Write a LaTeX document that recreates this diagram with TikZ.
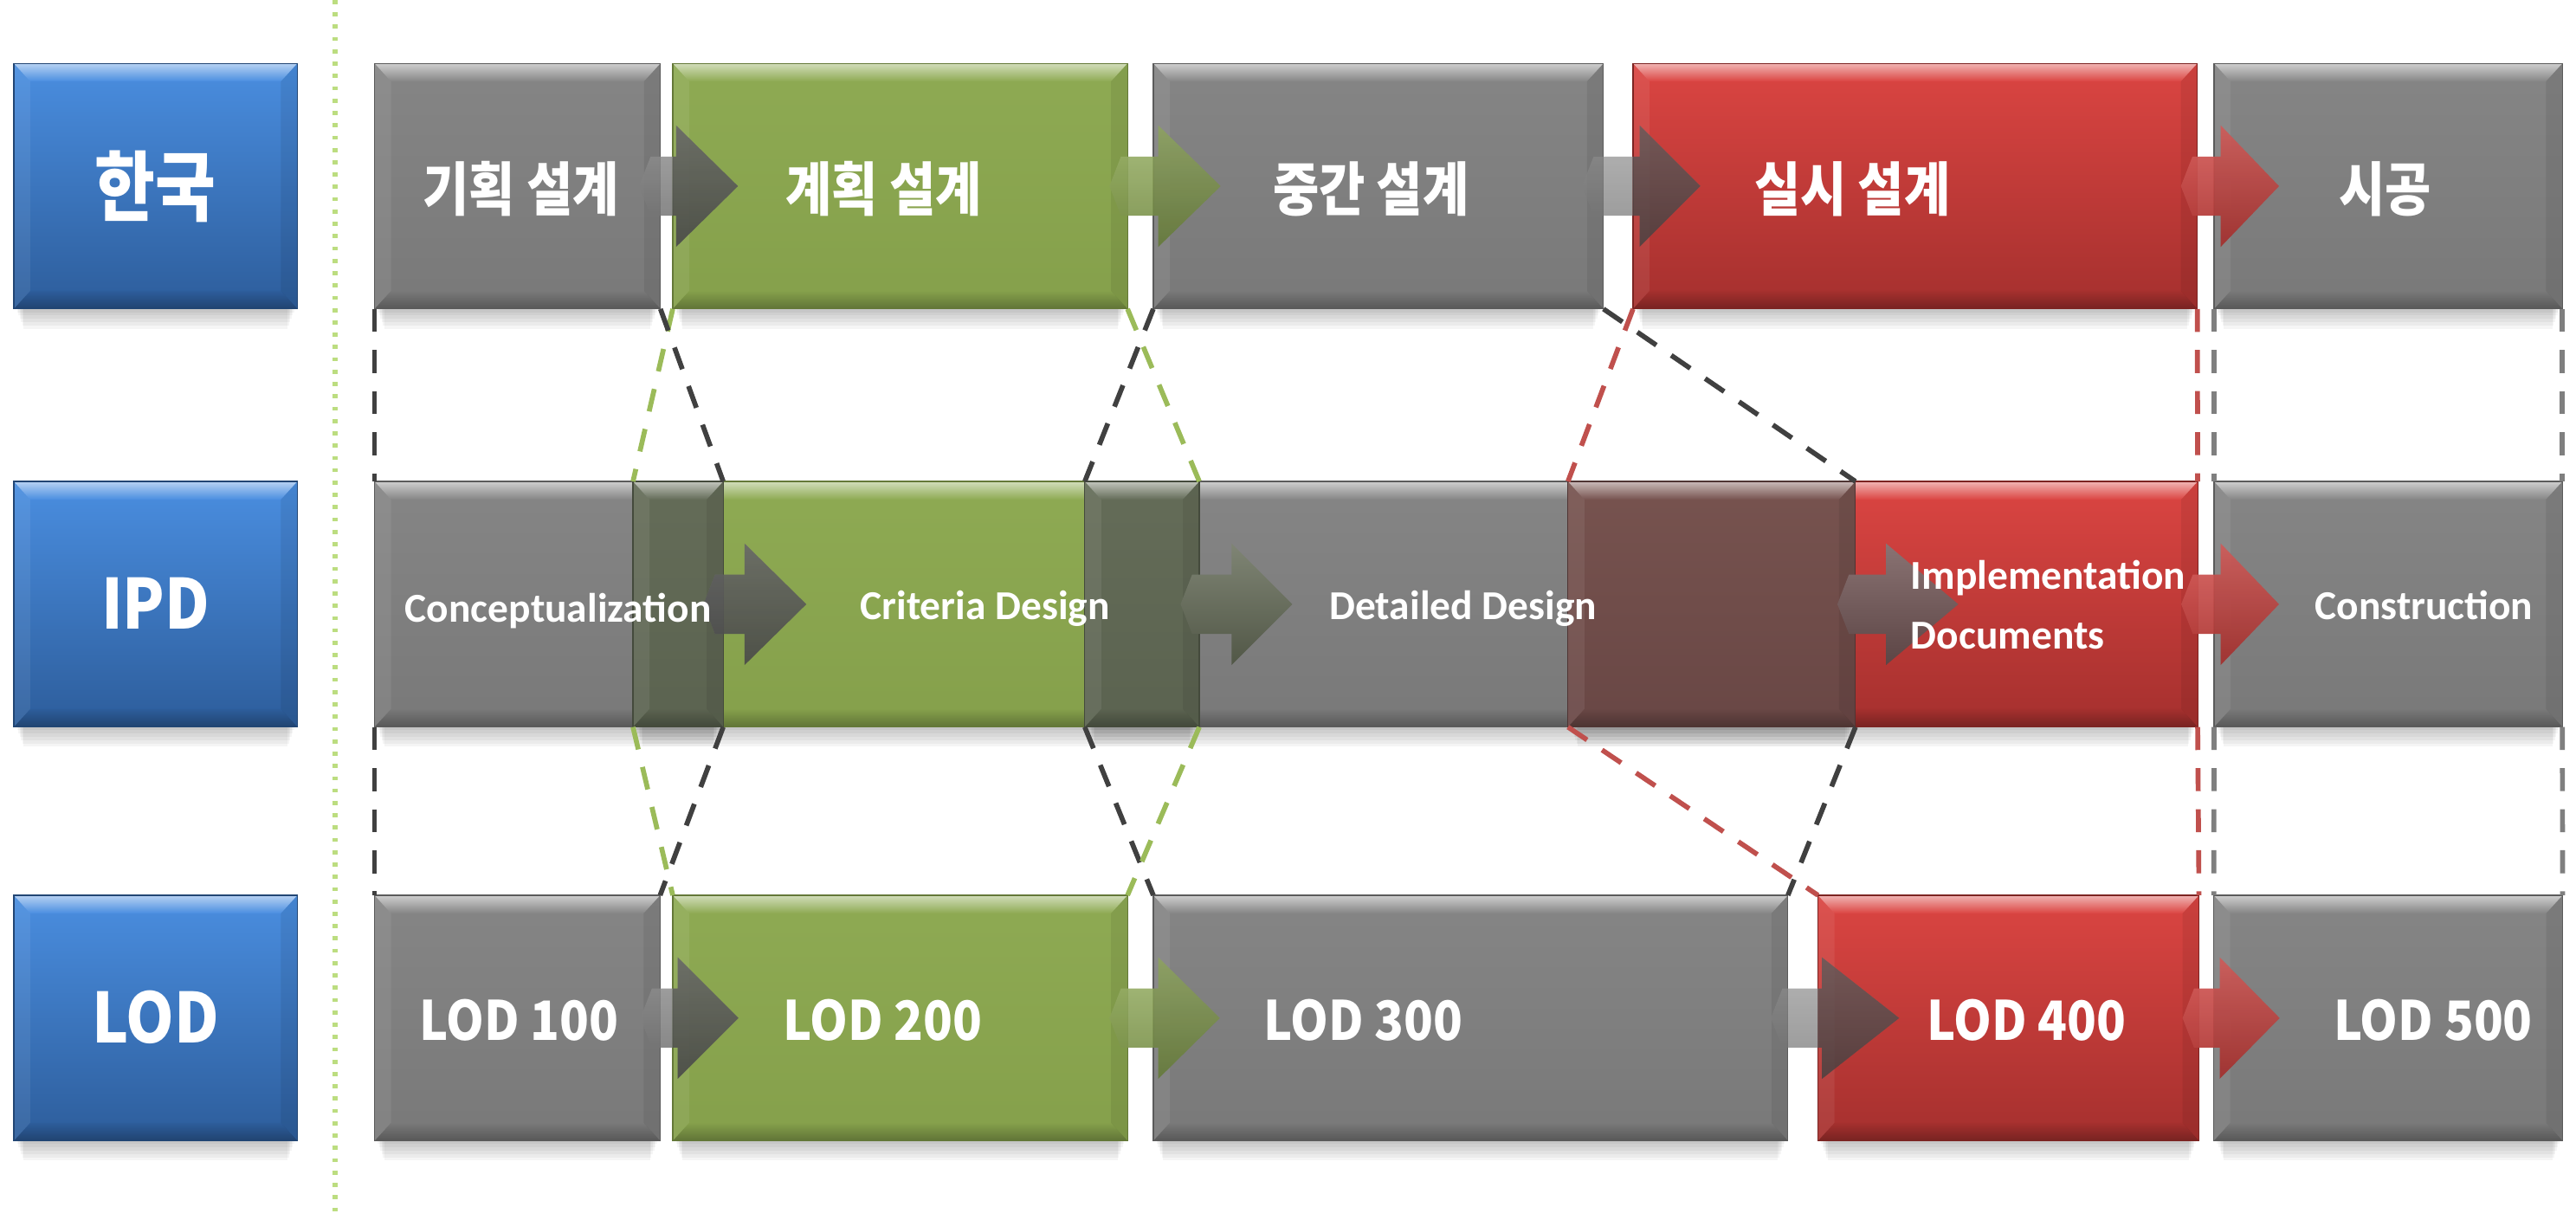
\documentclass[tikz,border=0pt]{standalone}
\usepackage{fontspec}
\newfontfamily\korfont{Noto Sans CJK KR}[FakeStretch=0.86]
\newfontfamily\latfont{Noto Sans CJK KR}[FakeStretch=0.89]
\newfontfamily\calfont{Carlito}
\usetikzlibrary{calc}

\definecolor{gyT}{HTML}{858585}\definecolor{gyB}{HTML}{797979}
\definecolor{grT}{HTML}{8EAA53}\definecolor{grB}{HTML}{85A04B}
\definecolor{rdT}{HTML}{DB4542}\definecolor{rdB}{HTML}{A5302E}
\definecolor{blT}{HTML}{4A8EE0}\definecolor{blB}{HTML}{2D5D9B}
\definecolor{ogT}{HTML}{646C58}\definecolor{ogB}{HTML}{5B6350}
\definecolor{orT}{HTML}{77534F}\definecolor{orB}{HTML}{694745}
\definecolor{cgray}{HTML}{808080}
\definecolor{cgreen}{HTML}{8BA750}
\definecolor{cred}{HTML}{D0403D}
\definecolor{cBtwo}{HTML}{636A56}
\definecolor{cBthree}{HTML}{705454}
\definecolor{dkD}{HTML}{404040}
\definecolor{grD}{HTML}{9BBB59}
\definecolor{rdD}{HTML}{C0504D}
\definecolor{gyD}{HTML}{7F7F7F}
\definecolor{dotg}{HTML}{BCDD80}

\newcommand\shadowbox[1]{\foreach \k in {0,...,5}{\fill[black,opacity=0.04] ($(#1.south west)+(2+\k*0.8,-1)$) rectangle ($(#1.south east)+(-2-\k*0.8,2+\k*2)$);}}
\newcommand\bev[4]{%
 \coordinate (bvnw) at (#1); \coordinate (bvse) at (#2);
 \coordinate (bvsw) at (bvnw |- bvse); \coordinate (bvne) at (bvse |- bvnw);
 \shade[top color=#3, bottom color=#4] (bvnw) rectangle (bvse);
 \shade[top color=#3!40!white, bottom color=#3] (bvnw) -- (bvne) -- ($(bvne)+(-10,11)$) -- ($(bvnw)+(10,11)$) -- cycle;
 \shade[top color=#4, bottom color=#4!72!black] ($(bvsw)+(10,-11)$) -- ($(bvse)+(-10,-11)$) -- (bvse) -- (bvsw) -- cycle;
 \fill[white,opacity=0.07] (bvnw) -- ($(bvnw)+(10,11)$) -- ($(bvsw)+(10,-11)$) -- (bvsw) -- cycle;
 \fill[black,opacity=0.07] (bvne) -- ($(bvne)+(-10,11)$) -- ($(bvse)+(-10,-11)$) -- (bvse) -- cycle;
 \draw[#4!75!black, line width=0.6] (bvnw) rectangle (bvse);
}
\newcommand\arrpath[3]{(#1) -- ($(#1)+(7,-18)$) -- ($(#2)+(0,-18)$) -- ($(#2)+(0,-37)$) -- ($(#2)+(#3,0)$) -- ($(#2)+(0,37)$) -- ($(#2)+(0,18)$) -- ($(#1)+(7,18)$) -- cycle}
\newcommand\blockarrow[7]{%
 \shade[top color=#4!82!white, middle color=#4, bottom color=#4!82!black, opacity=#5] \arrpath{#1}{#2}{#3};
 \begin{scope}\clip (#6.north west) rectangle (#6.south east);
 \fill[black,opacity=#7] \arrpath{#1}{#2}{#3};\end{scope}}

\tikzset{
 geom/.style={rectangle, inner sep=0pt, outer sep=0pt, minimum height=149.5pt, draw=none},
 dsh/.style={line width=3pt, dash pattern=on 14pt off 11pt},
 korL/.style={text=white, inner sep=0pt, font=\korfont\bfseries\fontsize{46.5}{50}\selectfont},
 korM/.style={text=white, inner sep=0pt, font=\korfont\bfseries\fontsize{35.5}{38}\selectfont},
 latL/.style={text=white, inner sep=0pt, anchor=base, font=\latfont\bfseries\fontsize{42}{46}\selectfont},
 latM/.style={text=white, inner sep=0pt, anchor=base, font=\latfont\bfseries\fontsize{33}{36}\selectfont},
 calM/.style={text=white, inner sep=0pt, font=\calfont\bfseries\fontsize{25}{36.4}\selectfont},
}

\begin{document}
\begin{tikzpicture}[x=1pt,y=-1pt]
\useasboundingbox (0,0) rectangle (1568,742.6);
\fill[white] (0,0) rectangle (1568,742.6);

% geometry nodes
\node[geom, minimum width=172.6] (b1) at (94.7,113.3) {};
\node[geom, minimum width=172.6] (b2) at (94.7,367.8) {};
\node[geom, minimum width=172.6] (b3) at (94.7,619.7) {};
\node[geom, minimum width=174] (k1) at (315,113.3) {};
\node[geom, minimum width=276.8] (k2) at (547.9,113.3) {};
\node[geom, minimum width=274] (k3) at (839,113.3) {};
\node[geom, minimum width=343.5] (k4) at (1165.75,113.3) {};
\node[geom, minimum width=212] (k5) at (1453.7,113.3) {};
\node[geom, minimum width=212.2] (i1) at (334.1,367.8) {};
\node[geom, minimum width=344.7] (i2) at (557.65,367.8) {};
\node[geom, minimum width=469.1] (i3) at (894.85,367.8) {};
\node[geom, minimum width=383.3] (i4) at (1146.05,367.8) {};
\node[geom, minimum width=212] (i5) at (1453.7,367.8) {};
\node[geom, minimum width=173.8] (l1) at (314.9,619.7) {};
\node[geom, minimum width=276.8] (l2) at (547.9,619.7) {};
\node[geom, minimum width=386.3] (l3) at (895.15,619.7) {};
\node[geom, minimum width=231.9] (l4) at (1222.55,619.7) {};
\node[geom, minimum width=212.3] (l5) at (1453.65,619.7) {};

% dotted separator
\coordinate (dtop) at (204,0);
\coordinate (dbot) at (204,742.6);
\draw[dotg, line width=3.4, dash pattern=on 2.5pt off 5pt] (dtop) -- (dbot);

% shadows
\foreach \n in {b1,b2,b3,k1,k2,k3,k4,k5,i1,i2,i3,i4,i5,l1,l2,l3,l4,l5}{\shadowbox{\n}}

% blue boxes
\bev{b1.north west}{b1.south east}{blT}{blB}
\bev{b2.north west}{b2.south east}{blT}{blB}
\bev{b3.north west}{b3.south east}{blT}{blB}

% row 1
\bev{k1.north west}{k1.south east}{gyT}{gyB}
\bev{k2.north west}{k2.south east}{grT}{grB}
\bev{k3.north west}{k3.south east}{gyT}{gyB}
\bev{k4.north west}{k4.south east}{rdT}{rdB}
\bev{k5.north west}{k5.south east}{gyT}{gyB}

% row 2
\bev{i1.north west}{i1.south east}{gyT}{gyB}
\bev{i2.north west}{i2.south east}{grT}{grB}
\bev{i3.north west}{i3.south east}{gyT}{gyB}
\bev{i4.north west}{i4.south east}{rdT}{rdB}
\bev{i5.north west}{i5.south east}{gyT}{gyB}
\bev{i2.north west}{i1.south east}{ogT}{ogB}
\bev{i3.north west}{i2.south east}{ogT}{ogB}
\bev{i4.north west}{i3.south east}{orT}{orB}

% row 3
\bev{l1.north west}{l1.south east}{gyT}{gyB}
\bev{l2.north west}{l2.south east}{grT}{grB}
\bev{l3.north west}{l3.south east}{gyT}{gyB}
\bev{l4.north west}{l4.south east}{rdT}{rdB}
\bev{l5.north west}{l5.south east}{gyT}{gyB}

% arrows row 1
\coordinate (a1s) at ($(k1.east)+(-13,0)$); \coordinate (a1b) at ($(k2.west)+(2,0)$);
\coordinate (a2s) at ($(k2.east)+(-11,0)$); \coordinate (a2b) at ($(k3.west)+(3,0)$);
\coordinate (a3s) at ($(k3.east)+(-13,0)$); \coordinate (a3b) at ($(k4.west)+(4,0)$);
\coordinate (a4s) at ($(k4.east)+(-10,0)$); \coordinate (a4b) at ($(k5.west)+(4,0)$);
\blockarrow{a1s}{a1b}{37.7}{cgray}{0.85}{k2}{0.28}
\blockarrow{a2s}{a2b}{38}{cgreen}{0.9}{k3}{0.1}
\blockarrow{a3s}{a3b}{37}{cgray}{0.7}{k4}{0.3}
\blockarrow{a4s}{a4b}{35.5}{cred}{0.95}{k5}{0.05}

% arrows row 2
\coordinate (c1s) at ($(i1.east)+(-12,0)$); \coordinate (c1b) at ($(i1.east)+(13,0)$);
\coordinate (c2s) at ($(i2.east)+(-11.4,0)$); \coordinate (c2b) at ($(i2.east)+(19.6,0)$);
\coordinate (c3s) at ($(i3.east)+(-11,0)$); \coordinate (c3b) at ($(i3.east)+(18.6,0)$);
\coordinate (c4s) at ($(i4.east)+(-10,0)$); \coordinate (c4b) at ($(i5.west)+(4,0)$);
\blockarrow{c1s}{c1b}{37.6}{cgray}{0.85}{i2}{0.28}
\blockarrow{c2s}{c2b}{37}{cBtwo}{1}{i3}{0}
\blockarrow{c3s}{c3b}{44}{cBthree}{1}{i4}{0}
\blockarrow{c4s}{c4b}{35.5}{cred}{0.95}{i5}{0.05}

% arrows row 3
\coordinate (d1s) at ($(l1.east)+(-12,0)$); \coordinate (d1b) at ($(l2.west)+(3,0)$);
\coordinate (d2s) at ($(l2.east)+(-11,0)$); \coordinate (d2b) at ($(l3.west)+(3,0)$);
\coordinate (d3s) at ($(l3.east)+(-10.4,0)$); \coordinate (d3b) at ($(l4.west)+(2.4,0)$);
\coordinate (d4s) at ($(l4.east)+(-10,0)$); \coordinate (d4b) at ($(l5.west)+(3.6,0)$);
\blockarrow{d1s}{d1b}{37}{cgray}{0.85}{l2}{0.28}
\blockarrow{d2s}{d2b}{37.5}{cgreen}{0.9}{l3}{0.1}
\blockarrow{d3s}{d3b}{47}{cgray}{0.7}{l4}{0.3}
\blockarrow{d4s}{d4b}{36.5}{cred}{0.95}{l5}{0.05}

% dashed connectors upper
\draw[dsh, dkD] (k1.south west) -- (i1.north west);
\draw[dsh, grD] (k2.south west) -- (i2.north west);
\draw[dsh, dkD] (k1.south east) -- (i1.north east);
\draw[dsh, dkD] (k3.south west) -- (i3.north west);
\draw[dsh, grD] (k2.south east) -- (i2.north east);
\draw[dsh, rdD] (k4.south west) -- (i4.north west);
\draw[dsh, dkD] (k3.south east) -- (i3.north east);
\draw[dsh, rdD] (k4.south east) -- (i4.north east);
\draw[dsh, gyD] (k5.south west) -- (i5.north west);
\draw[dsh, gyD] (k5.south east) -- (i5.north east);
% dashed connectors lower
\draw[dsh, dkD] (i1.south west) -- (l1.north west);
\draw[dsh, grD] (i2.south west) -- (l2.north west);
\draw[dsh, dkD] (i1.south east) -- (l1.north east);
\draw[dsh, dkD] (i3.south west) -- (l3.north west);
\draw[dsh, grD] (i2.south east) -- (l2.north east);
\draw[dsh, rdD] (i4.south west) -- (l4.north west);
\draw[dsh, dkD] (i3.south east) -- (l3.north east);
\draw[dsh, rdD] (i4.south east) -- (l4.north east);
\draw[dsh, gyD] (i5.south west) -- (l5.north west);
\draw[dsh, gyD] (i5.south east) -- (l5.north east);

% labels
\node[korL] (tb1) at (94.7,113.4) {한국};
\node[latL] (tb2) at (94.7,383) {IPD};
\node[latL] (tb3) at (94.7,634.7) {LOD};

\node[korM] (tk1) at (317,114.8) {기획 설계};
\node[korM] (tk2) at (538,114.8) {계획 설계};
\node[korM] (tk3) at (834.5,114.8) {중간 설계};
\node[korM] (tk4) at (1127.5,114.8) {실시 설계};
\node[korM] (tk5) at (1451.7,114.8) {시공};

\node[calM, anchor=base] (ti1) at (339.8,378.6) {Conceptualization};
\node[calM, anchor=base] (ti2) at (599.6,377) {Criteria Design};
\node[calM, anchor=base] (ti3) at (890.6,377) {Detailed Design};
\node[calM, anchor=west, align=left] (ti4) at (1163,368.2) {Implementation\\Documents};
\node[calM, anchor=base] (ti5) at (1475.5,377) {Construction};

\node[latM] (tl1) at (316,633.3) {LOD 100};
\node[latM] (tl2) at (537.5,633.3) {LOD 200};
\node[latM] (tl3) at (830,633.3) {LOD 300};
\node[latM] (tl4) at (1233.4,633.3) {LOD 400};
\node[latM] (tl5) at (1481,633.3) {LOD 500};
\end{tikzpicture}
\end{document}
